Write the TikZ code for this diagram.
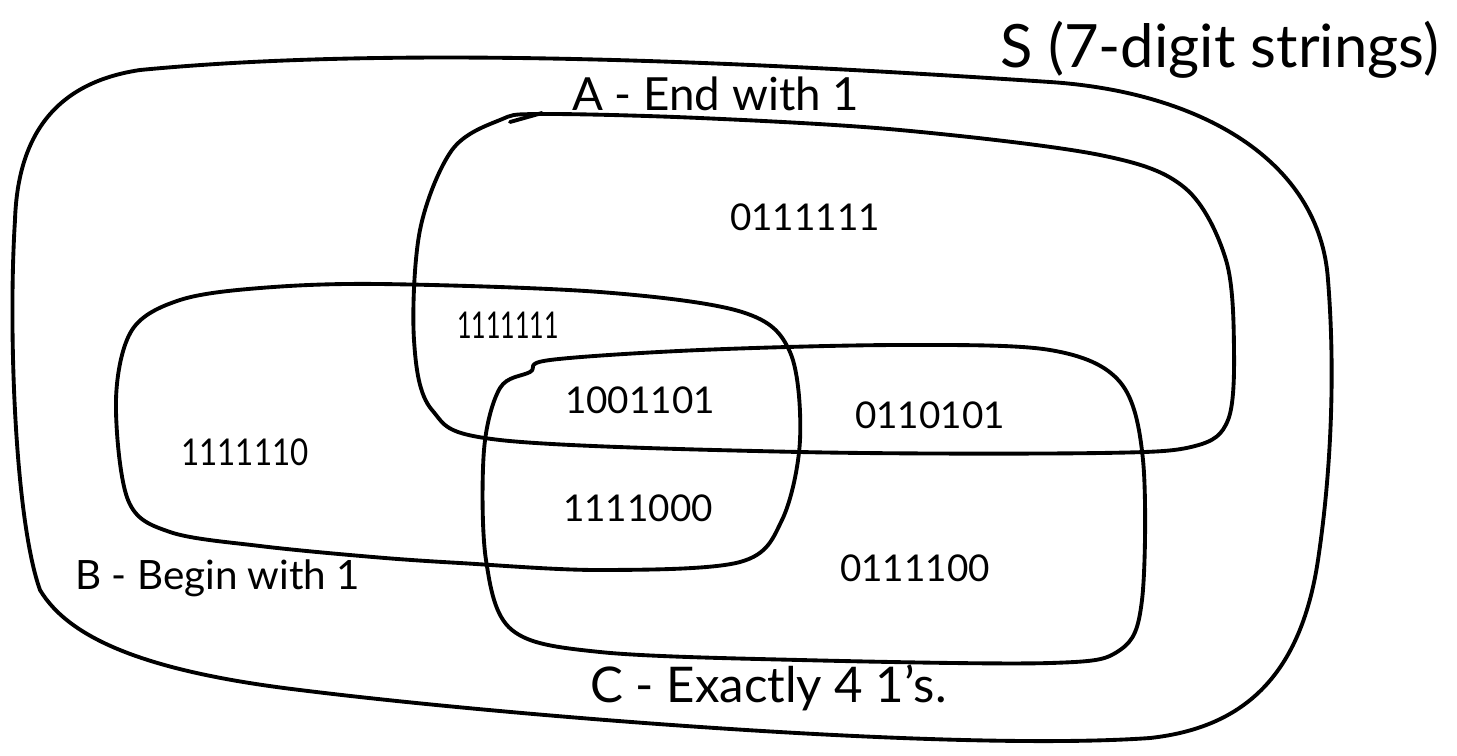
\documentclass[tikz,border=0pt]{standalone}
\usepackage{fontspec}
\setmainfont{Lato}
\begin{document}
\begin{tikzpicture}[x=0.02cm,y=-0.02cm,
  setline/.style={line width=2.2pt, line join=round, line cap=round, black},
  elem/.style={font=\fontsize{21}{25}\selectfont, inner sep=0pt},
  setlabel/.style={inner sep=0pt, anchor=west}]
\useasboundingbox (0,0) rectangle (1457,755);

% S: all 7-digit strings
\draw[setline] (140,70)
  .. controls (400,45) and (750,62) .. (1050,82)
  .. controls (1200,92) and (1320,160) .. (1328,280)
  .. controls (1336,380) and (1330,480) .. (1318,560)
  .. controls (1300,680) and (1240,728) .. (1150,738)
  .. controls (950,752) and (500,715) .. (300,690)
  .. controls (150,672) and (70,640) .. (40,590)
  .. controls (15,520) and (8,330) .. (15,220)
  .. controls (18,130) and (60,82) .. cycle;

% A: strings ending with 1
\draw[setline] plot[smooth cycle, tension=0.55] coordinates {
  (540,114) (700,118) (900,130) (1100,155) (1185,188) (1226,260)
  (1234,350) (1228,420) (1195,446) (1100,453) (800,452) (500,440)
  (432,410) (414,340) (420,230) (452,150) (500,120)};
\draw[setline] (510,122) -- (542,113);

% B: strings beginning with 1
\draw[setline] plot[smooth cycle, tension=0.55] coordinates {
  (380,284) (600,292) (742,312) (790,352) (800,440) (782,520) (740,562)
  (600,570) (460,563) (373,557) (260,546) (170,532) (128,500)
  (116,400) (132,330) (180,300) (260,288)};

% C: strings with exactly four 1s
\draw[setline] plot[smooth cycle, tension=0.55] coordinates {
  (550,360) (700,350) (900,345) (1050,350) (1120,382) (1143,460)
  (1142,600) (1120,650) (1050,663) (800,660) (600,652) (512,630)
  (486,560) (484,450) (500,388) (530,372)};

% set labels
\node[setlabel, font=\fontsize{34}{38}\selectfont] (lS) at (1000,50) {S (7-digit strings)};
\node[setlabel, font=\fontsize{26}{30}\selectfont] (lA) at (572,94) {A - End with 1};
\node[setlabel, font=\fontsize{23}{27}\selectfont] (lB) at (75,578) {B - Begin with 1};
\node[setlabel, font=\fontsize{28}{32}\selectfont] (lC) at (590,688) {C - Exactly 4 1's.};

% sample elements
\node[elem] (e1) at (805,217) {0111111};
\node[elem] (e2) at (508,325) {\scalebox{0.68}[1]{1111111}};
\node[elem] (e3) at (640,400) {1001101};
\node[elem] (e4) at (930,415) {0110101};
\node[elem] (e5) at (245,452) {\scalebox{0.85}[1]{1111110}};
\node[elem] (e6) at (638,508) {1111000};
\node[elem] (e7) at (915,568) {0111100};
\end{tikzpicture}
\end{document}
